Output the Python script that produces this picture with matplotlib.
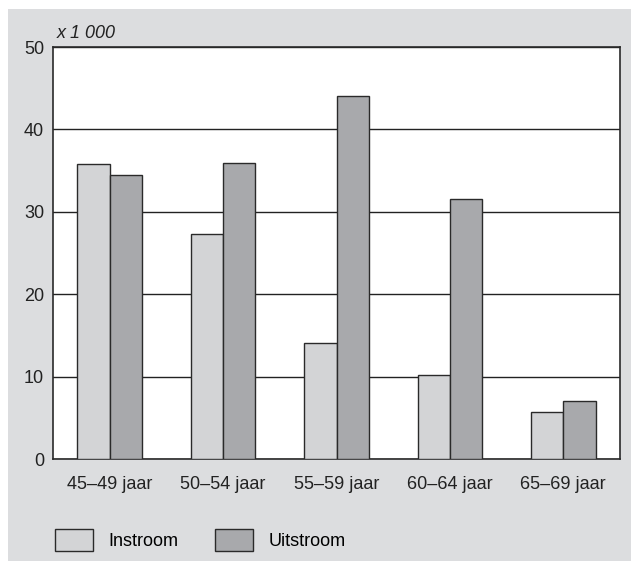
import numpy as np
import matplotlib.pyplot as plt
from matplotlib.patches import Rectangle, Patch

categories = ['45–49 jaar', '50–54 jaar', '55–59 jaar', '60–64 jaar', '65–69 jaar']
instroom = [35.8, 27.3, 14.1, 10.2, 5.7]
uitstroom = [34.5, 35.9, 44.0, 31.6, 7.0]

bg = '#dcdddf'
c_in = '#d3d4d6'
c_uit = '#a8a9ac'
edge = '#2a2a2a'

plt.rcParams['font.family'] = ['Liberation Sans', 'DejaVu Sans']
plt.rcParams['font.size'] = 13

fig = plt.figure(figsize=(6.31, 5.61), dpi=100)
fig.patch.set_facecolor('white')
# grey panel behind the chart
fig.patches.append(Rectangle((8 / 631, 0), 1 - 8 / 631, 1 - 9 / 561,
                             transform=fig.transFigure, facecolor=bg,
                             edgecolor='none', zorder=-10))

ax = fig.add_axes([53 / 631, 102 / 561, 567 / 631, 412 / 561])
ax.set_facecolor('white')

x = np.arange(len(categories))
w = 0.285
ax.bar(x - w / 2, instroom, w, color=c_in, edgecolor=edge, linewidth=1, zorder=3, label='Instroom')
ax.bar(x + w / 2, uitstroom, w, color=c_uit, edgecolor=edge, linewidth=1, zorder=3, label='Uitstroom')

ax.set_xlim(-0.5, 4.5)
ax.set_ylim(0, 50)
ax.set_yticks([0, 10, 20, 30, 40, 50])
ax.set_xticks(x)
ax.set_xticklabels(categories)
ax.yaxis.grid(True, color='#222222', linewidth=1)
ax.set_axisbelow(True)
ax.tick_params(length=0, colors='#222222')
ax.tick_params(axis='y', pad=6.5)
ax.tick_params(axis='x', pad=12)
for s in ax.spines.values():
    s.set_color(edge)
    s.set_linewidth(1.2)

ax.text(0.006, 1.012, 'x 1 000', transform=ax.transAxes, style='italic',
        ha='left', va='bottom', color='#222222')

handles = [Patch(facecolor=c_in, edgecolor=edge, linewidth=1),
           Patch(facecolor=c_uit, edgecolor=edge, linewidth=1)]
fig.legend(handles, ['Instroom', 'Uitstroom'], loc='lower left',
           bbox_to_anchor=(55 / 631, 10 / 561), ncol=2, frameon=False,
           handlelength=2.1, handleheight=1.5, handletextpad=0.85,
           columnspacing=2.05, borderpad=0, borderaxespad=0)

fig.savefig('out.png', dpi=100)
